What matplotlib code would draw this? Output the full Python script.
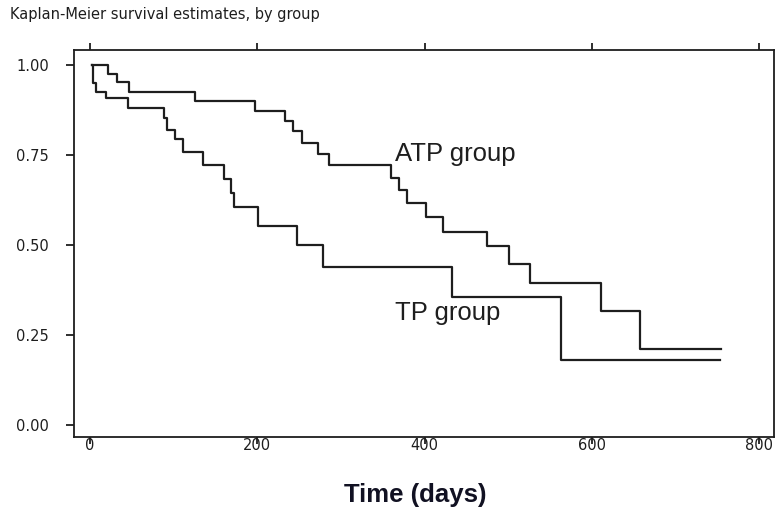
import matplotlib
matplotlib.use("Agg")
import matplotlib.pyplot as plt

# Kaplan-Meier
atp_t = [2, 21, 32, 47, 125, 197, 233, 243, 253, 273, 286, 360, 369, 379, 402, 422, 475, 501, 526, 611, 657, 754]
atp_s = [1.0, 0.975, 0.952, 0.925, 0.900, 0.873, 0.844, 0.817, 0.784, 0.753, 0.722, 0.686, 0.653, 0.617, 0.579, 0.536, 0.497, 0.447, 0.395, 0.317, 0.211, 0.211]

tp_t = [2, 3, 7, 19, 46, 88, 92, 102, 111, 135, 160, 169, 172, 201, 247, 279, 433, 563, 753]
tp_s = [1.0, 0.949, 0.926, 0.907, 0.880, 0.852, 0.819, 0.794, 0.759, 0.722, 0.683, 0.644, 0.605, 0.553, 0.500, 0.438, 0.356, 0.180, 0.180]

xticks = [0, 200, 400, 600, 800]
yticks = [0.0, 0.25, 0.5, 0.75, 1.0]
ytick_labels = ["0.00", "0.25", "0.50", "0.75", "1.00"]

tytul = "Kaplan-Meier survival estimates, by group"
os_x = "Time (days)"

fig = plt.figure(figsize=(7.76, 5.15), dpi=100)
ax = fig.add_axes([0.0954, 0.1515, 0.902, 0.7514])

kolor = "#1e1e1e"
ax.step(atp_t, atp_s, where="post", color=kolor, lw=1.6)
ax.step(tp_t, tp_s, where="post", color=kolor, lw=1.6)

ax.set_xlim(-19.1, 817.7)
ax.set_ylim(-0.0333, 1.0417)

for s in ax.spines.values():
    s.set_linewidth(1.3)
    s.set_color(kolor)

ax.set_xticks(xticks)
ax.set_yticks(yticks)
ax.set_yticklabels(ytick_labels)
ax.tick_params(axis="y", direction="out", length=6, width=1.3, pad=12,
               labelsize=10.5, colors=kolor, right=False)
ax.tick_params(axis="x", direction="out", length=5, width=1.3, pad=-4,
               labelsize=10.5, colors=kolor, top=True, labeltop=False)

ax.text(365, 0.734, "ATP group", fontsize=18.5, family="Liberation Sans", color=kolor)
ax.text(365, 0.292, "TP group", fontsize=18.5, family="Liberation Sans", color=kolor)

fig.text(0.013, 0.972, tytul, fontsize=10.5, va="center", ha="left", color=kolor)
fig.text(0.5355, 0.0258, os_x, fontsize=18.5, family="Liberation Sans", weight="bold",
         ha="center", va="baseline", color="#111122")

plt.savefig("out.png", dpi=100)
